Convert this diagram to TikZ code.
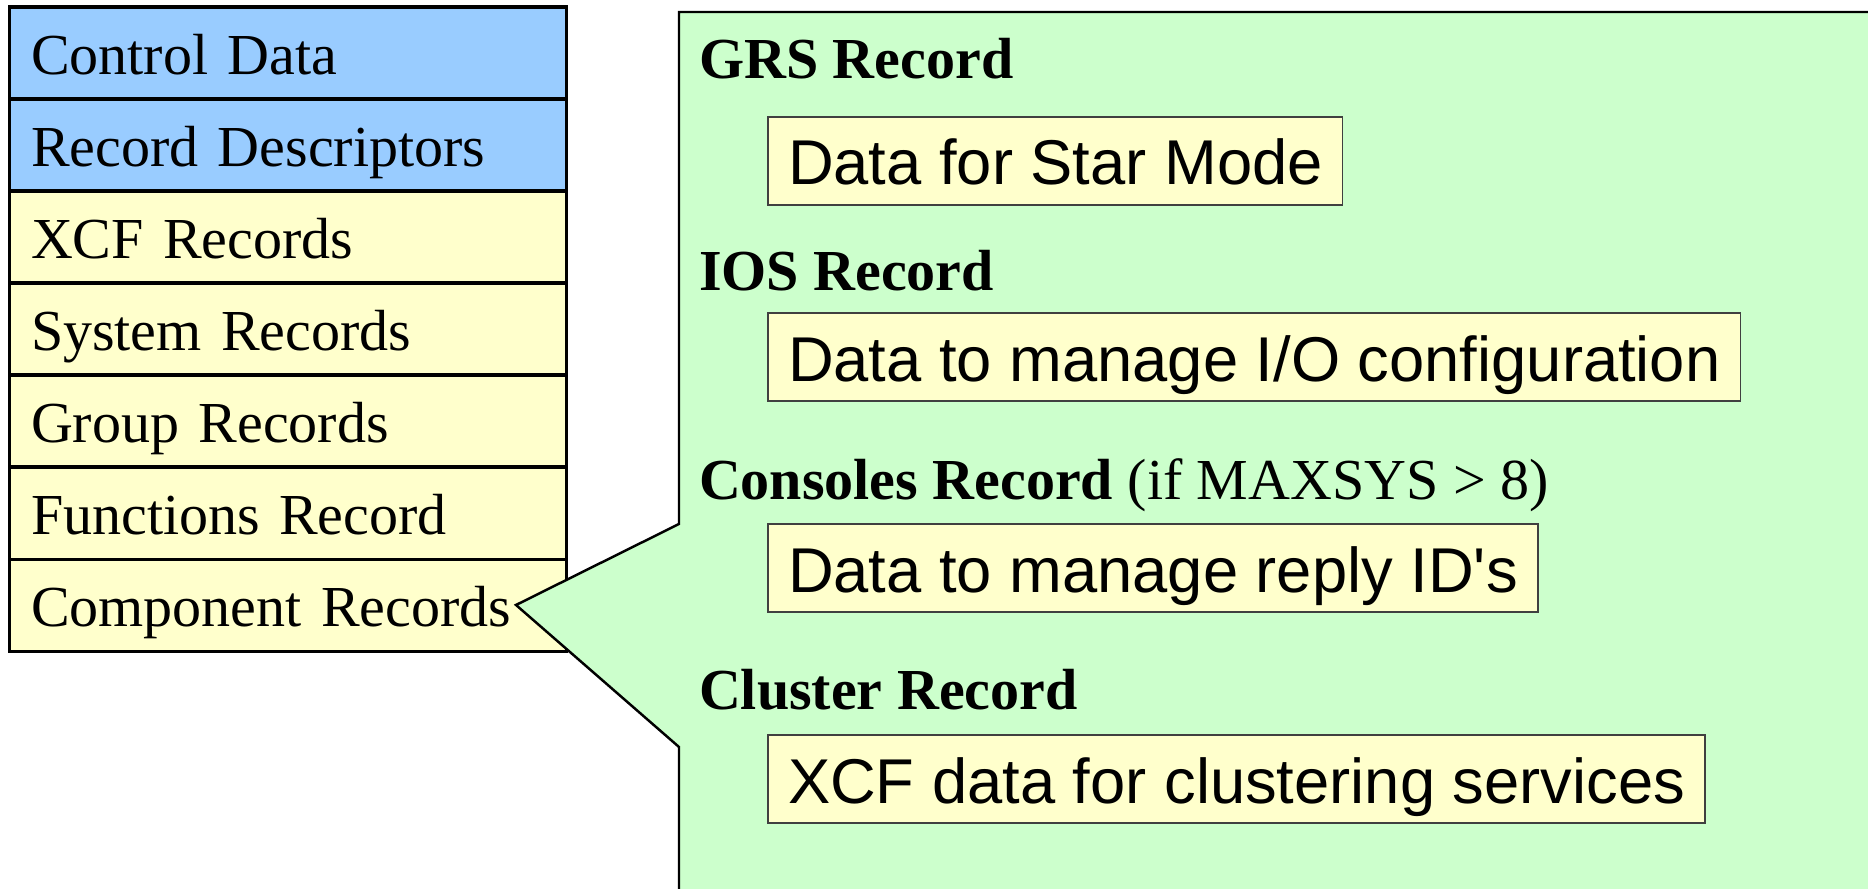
\documentclass[tikz,border=0pt]{standalone}
\usepackage{fontspec}
\setmainfont{Liberation Serif}
\setsansfont{Liberation Sans}
\usetikzlibrary{positioning}
\definecolor{rowblue}{RGB}{153,204,255}
\definecolor{rowyellow}{RGB}{255,255,204}
\definecolor{calloutgreen}{RGB}{204,255,204}

\begin{document}
\begin{tikzpicture}[x=0.01cm, y=0.01cm]
            \tikzstyle{every node}+=[inner sep=0pt, outer sep=0pt]
            \tikzstyle{tablerow}=[draw=black, line width=1pt, fill=rowyellow, minimum height=0.92cm, text width=5.135cm, inner xsep=0.215cm, align=left, text height=0.52cm, text depth=0.1cm, font=\fontsize{16.5}{18}\selectfont]
            \tikzstyle{heading}=[anchor=base west, font=\fontsize{16.5}{18}\selectfont]
            \tikzstyle{databox}=[draw=black!75, line width=0.4pt, fill=rowyellow, anchor=west, inner xsep=0.2cm, minimum height=0.88cm, text height=0.6cm, text depth=0.12cm, font=\sffamily\fontsize{18}{20}\selectfont]
            \useasboundingbox (0,0) rectangle (1868,-889);
            % table of records
            \node [tablerow, fill=rowblue, anchor=north west] (ctrl) at (9.5,-7) {Control Data};
            \node [tablerow, fill=rowblue, below=0pt of ctrl] (desc) {Record Descriptors};
            \node [tablerow, below=0pt of desc] (xcf) {XCF Records};
            \node [tablerow, below=0pt of xcf] (sys) {System Records};
            \node [tablerow, below=0pt of sys] (grp) {Group Records};
            \node [tablerow, below=0pt of grp] (func) {Functions Record};
            \node [tablerow, below=0pt of func] (comp) {Component Records};
            % callout
            \coordinate (tip) at (516,-605);
            \draw [black, line width=0.7pt, fill=calloutgreen] (679,-12) -- (1900,-12) -- (1900,-900) -- (679,-900) -- (679,-747) -- (tip) -- (679,-524) -- cycle;
            \node [heading] (grs) at (699,-79) {\textbf{GRS Record}};
            \node [databox] (grsdata) at (768,-161) {Data for Star Mode};
            \node [heading] (ios) at (699,-291) {\textbf{IOS Record}};
            \node [databox] (iosdata) at (768,-357) {Data to manage I/O configuration};
            \node [heading] (cons) at (699,-500) {\textbf{Consoles Record} (if MAXSYS > 8)};
            \node [databox] (consdata) at (768,-568) {Data to manage reply ID\textquotesingle s};
            \node [heading] (clus) at (699,-710) {\textbf{Cluster Record}};
            \node [databox] (clusdata) at (768,-779) {XCF data for clustering services};
\end{tikzpicture}
\end{document}
